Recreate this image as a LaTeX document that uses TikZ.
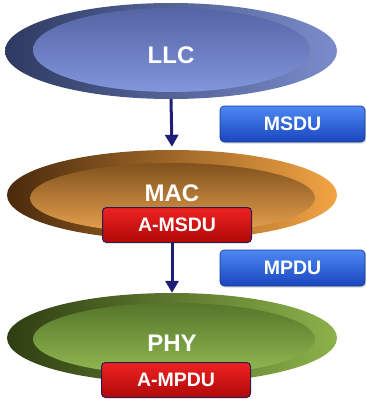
\documentclass[tikz,border=0pt]{standalone}
\usepackage{fontspec}
\setmainfont{Liberation Sans}
\usetikzlibrary{shapes.geometric,arrows.meta,shadows}
\definecolor{llcA}{HTML}{2E3A62}
\definecolor{llcB}{HTML}{7A8CCB}
\definecolor{llcC}{HTML}{5464A4}
\definecolor{llcD}{HTML}{8296DC}
\definecolor{macA}{HTML}{4A2A0C}
\definecolor{macB}{HTML}{F2A444}
\definecolor{macC}{HTML}{80521E}
\definecolor{macD}{HTML}{EAA24E}
\definecolor{phyA}{HTML}{2E3E12}
\definecolor{phyB}{HTML}{8CB24A}
\definecolor{phyC}{HTML}{56762A}
\definecolor{phyD}{HTML}{92BA52}
\definecolor{arrowc}{HTML}{1E1E78}
\definecolor{blueA}{HTML}{4C88F2}
\definecolor{blueB}{HTML}{1A46BE}
\definecolor{blueE}{HTML}{183A8C}
\definecolor{redA}{HTML}{EE2222}
\definecolor{redB}{HTML}{B00808}
\definecolor{redE}{HTML}{2C1C52}
\tikzset{
  outerell/.style={ellipse, inner sep=0pt},
  innerell/.style={ellipse, inner sep=0pt},
  lbl/.style={text=white, font=\bfseries\fontsize{24}{26}\selectfont},
  bluebox/.style={rounded corners=4pt, top color=blueA, bottom color=blueB, draw=blueE, line width=0.6pt,
    minimum width=145pt, minimum height=36pt, inner sep=0pt, text=white,
    font=\bfseries\fontsize{19.5}{21}\selectfont, drop shadow={opacity=0.3, shadow xshift=1.5pt, shadow yshift=-1.5pt}},
  redbox/.style={rounded corners=4pt, top color=redA, bottom color=redB, draw=redE, line width=1pt,
    minimum width=149pt, minimum height=35pt, inner sep=0pt, text=white,
    font=\bfseries\fontsize{19.5}{21}\selectfont},
  arr/.style={draw=arrowc, line width=3pt, -{Triangle[width=13pt,length=12pt]}}
}
\begin{document}
\begin{tikzpicture}[x=1pt,y=-1pt]
\useasboundingbox (0,0) rectangle (366,399);
% LLC
\node[outerell, minimum width=332pt, minimum height=96pt, left color=llcA, right color=llcB] (llc) at (171,51) {};
\node[innerell, minimum width=277pt, minimum height=84pt, top color=llcC, bottom color=llcD] (llci) at (171.5,50) {};
\node[lbl] (llct) at (171,55) {LLC};
% MAC
\node[outerell, minimum width=330pt, minimum height=90pt, left color=macA, right color=macB] (mac) at (172,195) {};
\node[innerell, minimum width=285pt, minimum height=70pt, top color=macC, bottom color=macD] (maci) at (172.5,198) {};
\node[lbl] (mact) at (172,193) {MAC};
% PHY
\node[outerell, minimum width=330pt, minimum height=90pt, left color=phyA, right color=phyB] (phy) at (172,338) {};
\node[innerell, minimum width=282pt, minimum height=72pt, top color=phyC, bottom color=phyD] (phyi) at (174,339) {};
\node[lbl] (phyt) at (172,343) {PHY};
% boxes
\node[redbox] (amsdu) at (177,225) {A-MSDU};
\node[redbox] (ampdu) at (176,380) {A-MPDU};
\node[bluebox] (msdu) at (292.5,124) {MSDU};
\node[bluebox] (mpdu) at (292.5,268) {MPDU};
% arrows
\draw[arr, shorten >=3pt] (llc.south) -- (mac.north);
\draw[arr] (amsdu.south -| mac.center) -- (phy.north);
\end{tikzpicture}
\end{document}
